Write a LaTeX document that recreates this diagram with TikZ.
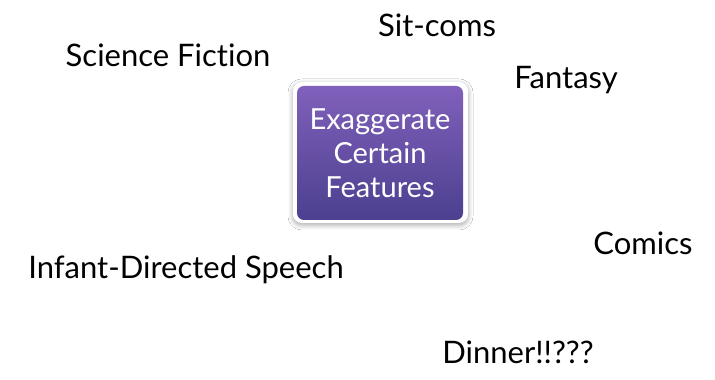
\documentclass[tikz,border=0pt]{standalone}
\usepackage{fontspec}
\setmainfont[Ligatures=NoCommon]{Lato}
\usetikzlibrary{shadows.blur}
\begin{document}
\begin{tikzpicture}[x=1pt,y=1pt,
  lbl/.style={font=\fontsize{31}{36}\selectfont, text=black, inner sep=0pt},
  boxtxt/.style={font=\fontsize{29}{34}\selectfont, text=white, align=center, inner sep=0pt}]
\useasboundingbox (0,0) rectangle (715,380);
\fill[white] (0,0) rectangle (715,380);
% central box
\fill[white, rounded corners=9pt, blur shadow={shadow blur steps=8, shadow xshift=0pt, shadow yshift=-2pt, shadow opacity=35, shadow blur radius=5pt}] (293,157) rectangle (468,298);
\shade[rounded corners=7pt, top color={rgb,255:red,128;green,96;blue,187}, bottom color={rgb,255:red,76;green,64;blue,143}] (297,160) rectangle (463,294);
\node[boxtxt] (box) at (380,227) {Exaggerate\\Certain\\Features};
\node[lbl] (scifi) at (168,325) {Science Fiction};
\node[lbl] (sitcoms) at (437,355) {Sit-coms};
\node[lbl] (fantasy) at (566,300) {Fantasy};
\node[lbl] (comics) at (643,137) {Comics};
\node[lbl] (infant) at (186,110) {Infant-Directed Speech};
\node[lbl] (dinner) at (518,28) {Dinner!!???};
\end{tikzpicture}
\end{document}
